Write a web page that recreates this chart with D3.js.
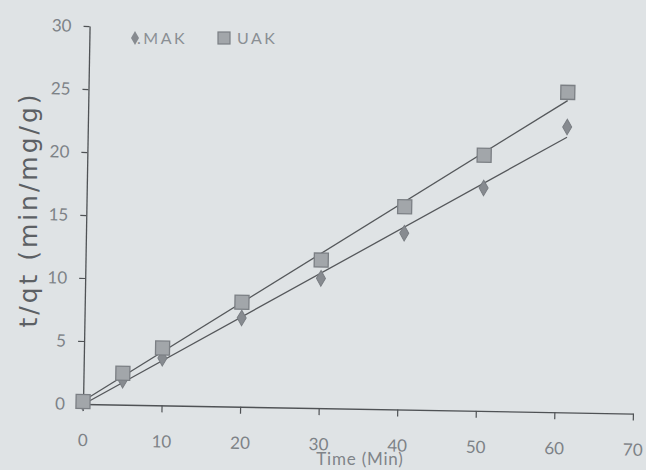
<!DOCTYPE html>
<html>
<head>
<meta charset="utf-8">
<script src="https://cdn.jsdelivr.net/npm/d3@7"></script>
<style>
  html, body { margin: 0; padding: 0; background: #dfe3e5; }
  svg { display: block; }
</style>
</head>
<body>
<svg id="chart" width="646" height="470"></svg>
<script>
// ---- data ----
const timeMin = [0, 5, 10, 20, 30, 40.5, 50.5, 61];
const makValues = [0.1, 1.95, 3.75, 7.05, 10.3, 14.0, 17.7, 22.65];
const uakValues = [0.2, 2.5, 4.55, 8.3, 11.75, 16.1, 20.3, 25.4];
const seriesNames = [".MAK", "UAK"];
const xTicks = [0, 10, 20, 30, 40, 50, 60, 70];
const yTicks = [0, 5, 10, 15, 20, 25, 30];
const xTitle = "Time (Min)";
const yTitle = "t/qt (min/mg/g)";

const svg = d3.select("#chart");
svg.append("rect").attr("width", 646).attr("height", 470).attr("fill", "#dfe3e5");

const ox = 83, oy = 404;
const plotW = 550, plotH = 378;
const x = d3.scaleLinear().domain([0, 70]).range([0, plotW]);
const y = d3.scaleLinear().domain([0, 30]).range([0, -plotH]);

// slight rotation like the photographed page
const g = svg.append("g").attr("transform", `translate(${ox},${oy}) rotate(1)`);

const axisColor = "#4f5255";
const tickFont = "Lato, 'Open Sans', sans-serif";

const xAxis = g.append("g").call(d3.axisBottom(x).tickValues(xTicks).tickSize(7).tickPadding(23).tickSizeOuter(0));
const yAxis = g.append("g").call(d3.axisLeft(y).tickValues(yTicks).tickSize(6).tickPadding(12).tickSizeOuter(0));
[xAxis, yAxis].forEach(a => {
  a.select(".domain").attr("stroke", axisColor).attr("stroke-width", 1.3);
  a.selectAll(".tick line").attr("stroke", axisColor).attr("stroke-width", 1.2);
  a.selectAll(".tick text").attr("fill", "#7d8287").attr("font-family", tickFont).attr("font-size", 17);
});

// linear trendlines from the data
function fit(xs, ys) {
  const mx = d3.mean(xs), my = d3.mean(ys);
  let sxy = 0, sxx = 0;
  xs.forEach((v, i) => { sxy += (v - mx) * (ys[i] - my); sxx += (v - mx) * (v - mx); });
  const b = sxy / sxx;
  return { b, a: my - b * mx };
}
const line = d3.line().x(d => x(d[0])).y(d => y(d[1]));
[makValues, uakValues].forEach(vals => {
  const f = fit(timeMin, vals);
  const ends = d3.extent(timeMin).map(t => [t, f.a + f.b * t]);
  g.append("path").datum(ends).attr("d", line)
    .attr("fill", "none").attr("stroke", "#55585b").attr("stroke-width", 1.3);
});

// markers
const diamond = d3.symbol().type(d3.symbolDiamond).size(70);
g.selectAll(".mak").data(timeMin.map((t, i) => [t, makValues[i]])).join("path")
  .attr("class", "mak")
  .attr("d", diamond)
  .attr("transform", d => `translate(${x(d[0])},${y(d[1])})`)
  .attr("fill", "#878b90").attr("stroke", "#7a7e83").attr("stroke-width", 1);

g.selectAll(".uak").data(timeMin.map((t, i) => [t, uakValues[i]])).join("rect")
  .attr("class", "uak")
  .attr("x", d => x(d[0]) - 7).attr("y", d => y(d[1]) - 7)
  .attr("width", 14).attr("height", 14)
  .attr("fill", "#a2a6aa").attr("stroke", "#7b7f84").attr("stroke-width", 1.3);

// legend
const leg = svg.append("g");
leg.append("path").attr("d", d3.symbol().type(d3.symbolDiamond).size(55))
  .attr("transform", "translate(135,38)").attr("fill", "#878b90");
leg.append("text").attr("x", 137).attr("y", 44).text(seriesNames[0])
  .attr("font-family", tickFont).attr("font-size", 16).attr("letter-spacing", 2.5).attr("fill", "#8a8f94");
leg.append("rect").attr("x", 218).attr("y", 32).attr("width", 12).attr("height", 12)
  .attr("fill", "#a2a6aa").attr("stroke", "#7b7f84").attr("stroke-width", 1.2);
leg.append("text").attr("x", 237).attr("y", 44).text(seriesNames[1])
  .attr("font-family", tickFont).attr("font-size", 16).attr("letter-spacing", 2.5).attr("fill", "#8a8f94");

// axis titles
svg.append("text").attr("x", 360).attr("y", 465).attr("text-anchor", "middle")
  .attr("font-family", tickFont).attr("font-size", 17).attr("letter-spacing", 0.8)
  .attr("fill", "#7f8489").text(xTitle);
svg.append("text").attr("transform", "translate(37,211) rotate(-90)").attr("text-anchor", "middle")
  .attr("font-family", "'DejaVu Sans', Verdana, sans-serif").attr("font-size", 25)
  .attr("textLength", 233).attr("lengthAdjust", "spacing")
  .attr("fill", "#5c6064").text(yTitle);
</script>
</body>
</html>
